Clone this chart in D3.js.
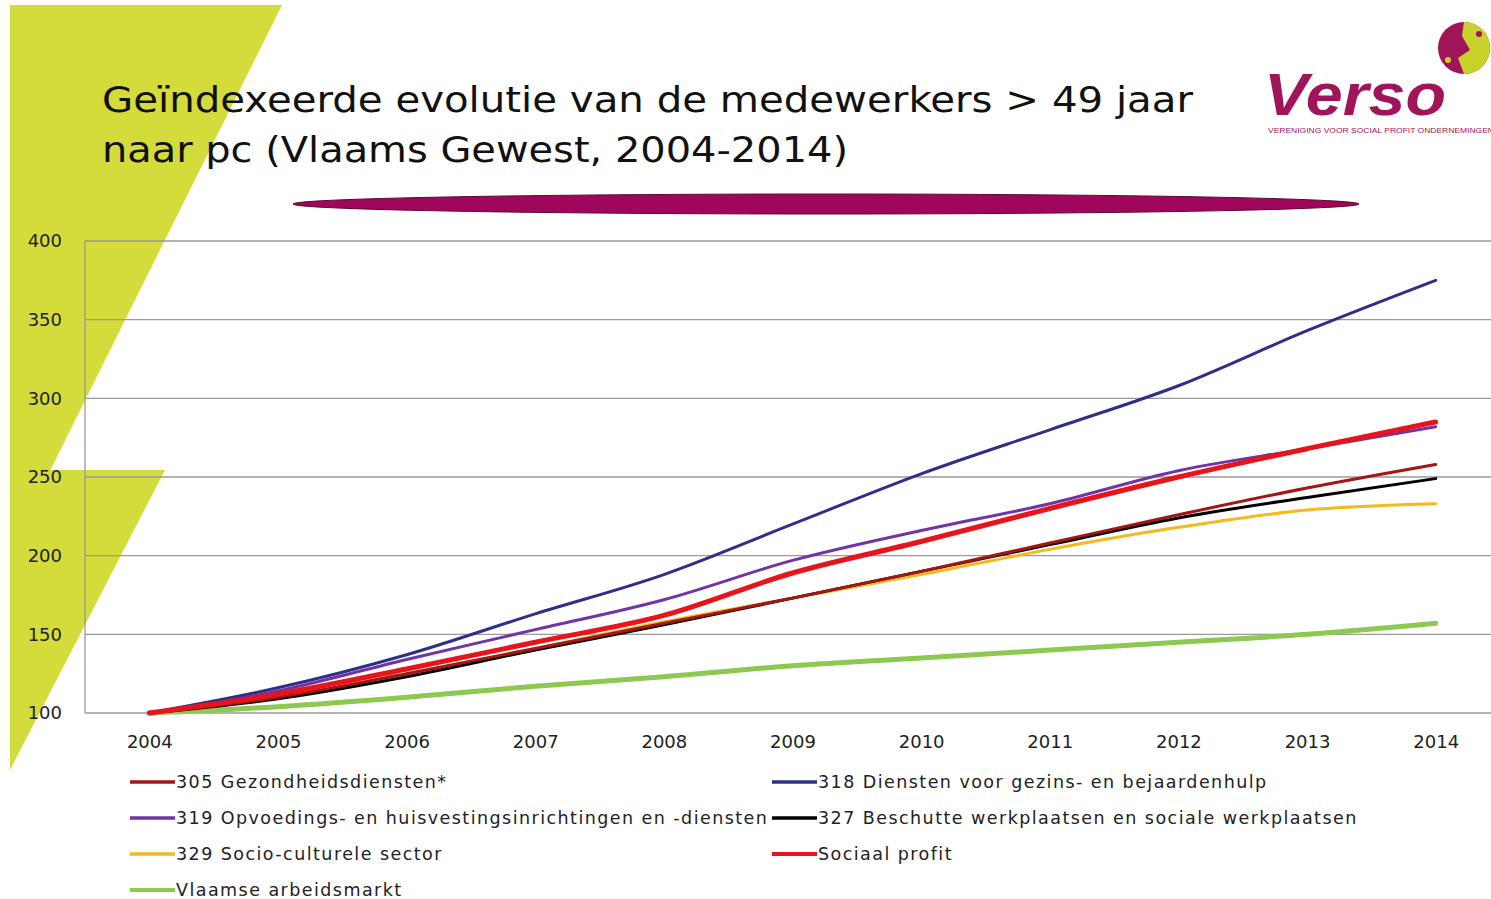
<!DOCTYPE html>
<html>
<head>
<meta charset="utf-8">
<script src="https://cdn.jsdelivr.net/npm/d3@7"></script>
<style>
  body { margin: 0; background: #fff; }
  svg { display: block; font-family: "DejaVu Sans", Verdana, sans-serif; }
</style>
</head>
<body>
<svg id="chart" width="1491" height="899"></svg>
<script>
// categories + series
const years = ["2004","2005","2006","2007","2008","2009","2010","2011","2012","2013","2014"];
const yTicks = [100, 150, 200, 250, 300, 350, 400];

const gezondheid  = [100, 110, 125, 141, 157, 173, 190, 208, 226, 243, 258];
const gezinshulp  = [100, 116, 137, 163, 188, 220, 252, 280, 308, 343, 375];
const opvoeding   = [100, 114, 134, 153, 172, 197, 216, 233, 254, 268, 282];
const beschut     = [100, 109, 123, 140, 156, 173, 190, 207, 224, 237, 249];
const sociocult   = [100, 110, 125, 141, 158, 173, 188, 204, 218, 229, 233];
const sociaal     = [100, 112, 128, 145, 162, 189, 209, 230, 250, 268, 285];
const arbeidsmarkt= [100, 104, 110, 117, 123, 130, 135, 140, 145, 150, 157];

const series = [
  { name: "Vlaamse arbeidsmarkt", values: arbeidsmarkt, color: "#8dc850", w: 5 },
  { name: "329 Socio-culturele sector", values: sociocult, color: "#f4b91e", w: 3 },
  { name: "327 Beschutte werkplaatsen en sociale werkplaatsen", values: beschut, color: "#000000", w: 3 },
  { name: "305 Gezondheidsdiensten*", values: gezondheid, color: "#a51515", w: 3 },
  { name: "319 Opvoedings- en huisvestingsinrichtingen en -diensten", values: opvoeding, color: "#7035a5", w: 3 },
  { name: "318 Diensten voor gezins- en bejaardenhulp", values: gezinshulp, color: "#2e3087", w: 3 },
  { name: "Sociaal profit", values: sociaal, color: "#e8141b", w: 5 }
];
const legendOrder = [
  "305 Gezondheidsdiensten*", "318 Diensten voor gezins- en bejaardenhulp",
  "319 Opvoedings- en huisvestingsinrichtingen en -diensten", "327 Beschutte werkplaatsen en sociale werkplaatsen",
  "329 Socio-culturele sector", "Sociaal profit",
  "Vlaamse arbeidsmarkt"
];

const svg = d3.select("#chart");

// decoration: lime slanted shapes
const lime = "#d3dc3a";
svg.append("polygon").attr("points", "10,5 282,5 10,551").attr("fill", lime);
svg.append("polygon").attr("points", "10,470 165,470 10,770").attr("fill", lime);

// title
const title = svg.append("text").attr("font-size", 36).attr("fill", "#111");
title.append("tspan").attr("x", 102).attr("y", 112)
  .attr("textLength", 1091).attr("lengthAdjust", "spacingAndGlyphs")
  .text("Geïndexeerde evolutie van de medewerkers > 49 jaar");
title.append("tspan").attr("x", 102).attr("y", 162)
  .attr("textLength", 746).attr("lengthAdjust", "spacingAndGlyphs")
  .text("naar pc (Vlaams Gewest, 2004-2014)");

// magenta bar
svg.append("ellipse").attr("cx", 826).attr("cy", 204).attr("rx", 533).attr("ry", 10)
  .attr("fill", "#a0065c").attr("stroke", "#5a0a30").attr("stroke-width", 1);

// logo
const logo = svg.append("g");
logo.append("circle").attr("cx", 1464).attr("cy", 48).attr("r", 26).attr("fill", "#a0145a");
logo.append("path").attr("d", "M1464,22 A26,26 0 0,1 1464,74 L1458,58 L1470,50 L1462,36 Z").attr("fill", "#c8d22a");
logo.append("circle").attr("cx", 1448).attr("cy", 60).attr("r", 3).attr("fill", "#c8d22a");
logo.append("circle").attr("cx", 1479).attr("cy", 34).attr("r", 3).attr("fill", "#a0145a");
logo.append("text").attr("x", 1264).attr("y", 115).attr("font-size", 60)
  .attr("font-weight", "bold").attr("font-style", "italic").attr("fill", "#a0145a")
  .attr("font-family", "'Liberation Sans', Arial, sans-serif")
  .attr("textLength", 182).attr("lengthAdjust", "spacingAndGlyphs").text("Verso");
logo.append("text").attr("x", 1268).attr("y", 133).attr("font-size", 7).attr("fill", "#a0145a")
  .attr("font-family", "'Liberation Sans', Arial, sans-serif")
  .attr("textLength", 226).attr("lengthAdjust", "spacingAndGlyphs")
  .text("VERENIGING VOOR SOCIAL PROFIT ONDERNEMINGEN");

// chart
const plotLeft = 85, plotRight = 1500, plotTop = 241, plotBottom = 713;
const x = d3.scalePoint().domain(years).range([plotLeft, plotRight]).padding(0.5);
const y = d3.scaleLinear().domain([100, 400]).range([plotBottom, plotTop]);

const grid = svg.append("g");
grid.selectAll("line").data(yTicks).join("line")
  .attr("x1", plotLeft).attr("x2", plotRight)
  .attr("y1", d => y(d)).attr("y2", d => y(d))
  .attr("stroke", "#9a9a9a").attr("stroke-width", 1.3);
grid.append("line").attr("x1", plotLeft).attr("x2", plotLeft).attr("y1", plotTop).attr("y2", plotBottom)
  .attr("stroke", "#9a9a9a").attr("stroke-width", 1.3);

const yAxis = svg.append("g").attr("transform", `translate(62,0)`)
  .call(d3.axisLeft(y).tickValues(yTicks).tickSize(0).tickPadding(0));
yAxis.select(".domain").remove();
yAxis.selectAll("text").attr("font-size", 18).attr("fill", "#222")
  .attr("font-family", "'DejaVu Sans', Verdana, sans-serif");

const xAxis = svg.append("g").attr("transform", `translate(0,${plotBottom})`)
  .call(d3.axisBottom(x).tickSize(0).tickPadding(22));
xAxis.select(".domain").remove();
xAxis.selectAll("text").attr("font-size", 18).attr("fill", "#222")
  .attr("font-family", "'DejaVu Sans', Verdana, sans-serif");

const line = d3.line()
  .x((d, i) => x(years[i]))
  .y(d => y(d))
  .curve(d3.curveMonotoneX);

svg.append("g").selectAll("path").data(series).join("path")
  .attr("d", d => line(d.values))
  .attr("fill", "none")
  .attr("stroke", d => d.color)
  .attr("stroke-width", d => d.w)
  .attr("stroke-linejoin", "round")
  .attr("stroke-linecap", "round");

// legend, two columns
const colX = [130, 772];
const legend = svg.append("g");
const items = legend.selectAll("g").data(legendOrder).join("g")
  .attr("transform", (d, i) => `translate(${colX[i % 2]},${782 + Math.floor(i / 2) * 36})`);
items.append("line").attr("x1", 0).attr("x2", 45).attr("y1", 0).attr("y2", 0)
  .attr("stroke", d => series.find(s => s.name === d).color)
  .attr("stroke-width", d => series.find(s => s.name === d).w === 5 ? 4 : 3.5);
items.append("text").attr("x", 46).attr("y", 0).attr("dy", "0.35em")
  .attr("font-size", 17.5).attr("fill", "#222").attr("letter-spacing", 1.45)
  .text(d => d);
</script>
</body>
</html>
